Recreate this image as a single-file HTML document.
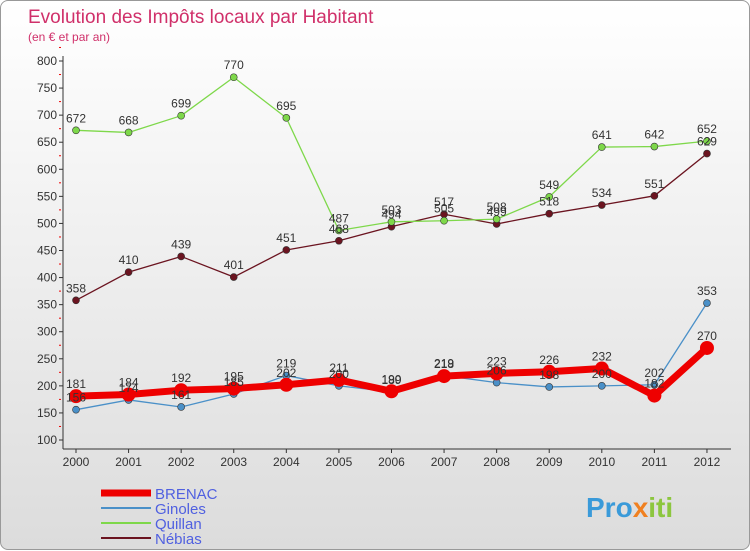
<!DOCTYPE html>
<html><head><meta charset="utf-8"><style>
body{margin:0;width:750px;height:550px;overflow:hidden;font-family:"Liberation Sans",sans-serif}
#wrap{position:absolute;left:0;top:0;width:748px;height:548px;border:1px solid #999;border-radius:8px;background:linear-gradient(#fff,#dcdcdc)}
</style></head><body>
<div id="wrap">
<svg width="750" height="550" id="svg" style="position:absolute;left:0;top:0">
<text x="27" y="22" font-size="19" fill="#d0306a">Evolution des Impôts locaux par Habitant</text>
<text x="27" y="40" font-size="12" fill="#d0306a">(en € et par an)</text>
<g id="grid"></g><g id="series"></g><g id="labels"></g>
<text x="585" y="516" font-size="28" font-weight="bold" fill="#3a9ad9">Pro<tspan fill="#f08020">x</tspan><tspan fill="#8cc63f">iti</tspan></text>
</svg>
</div>
<script>
const years=[2000,2001,2002,2003,2004,2005,2006,2007,2008,2009,2010,2011,2012];
const brenac=[181,184,192,195,202,211,190,218,223,226,232,182,270];
const ginoles=[156,174,161,185,219,200,189,219,206,198,200,202,353];
const quillan=[672,668,699,770,695,487,503,505,508,549,641,642,652];
const nebias=[358,410,439,401,451,468,494,517,499,518,534,551,629];
const yTicks=[100,150,200,250,300,350,400,450,500,550,600,650,700,750,800];
const NS="http://www.w3.org/2000/svg";
const X=i=>75+i*52.58, Y=v=>439-(v-100)*379/700;
function mk(t,a,p){const e=document.createElementNS(NS,t);for(const k in a)e.setAttribute(k,a[k]);p.appendChild(e);return e;}
const g=document.getElementById('grid');
const ax=mk('line',{x1:62,y1:55,x2:62,y2:448,stroke:'#333'},g);


const bx=mk('line',{x1:62,y1:448,x2:730,y2:448,stroke:'#333'},g);


yTicks.forEach(v=>{
 mk('line',{x1:58,y1:Y(v),x2:62,y2:Y(v),stroke:'#333'},g);
 mk('line',{x1:58,y1:Y(v+25),x2:60,y2:Y(v+25),stroke:'#e00'},g);
 const t=mk('text',{x:56,y:Y(v)+4,'font-size':12,'text-anchor':'end',fill:'#333'},g);t.textContent=v;
 
 
});
years.forEach((y,i)=>{
 mk('line',{x1:X(i),y1:448,x2:X(i),y2:452,stroke:'#333'},g);
 const t=mk('text',{x:X(i),y:465,'font-size':12,'text-anchor':'middle',fill:'#333'},g);t.textContent=y;
 
 
});
const S=document.getElementById('series'),L=document.getElementById('labels');
const series=[
 {n:'nebias',d:nebias,c:'#6b1420',w:1.3,r:3.5},
 {n:'quillan',d:quillan,c:'#7ed84a',w:1.3,r:3.5},
 {n:'ginoles',d:ginoles,c:'#4a90c8',w:1.3,r:3.5},
 {n:'brenac',d:brenac,c:'#ee0000',w:7,r:7}];
series.forEach(s=>{
 const p=mk('polyline',{points:s.d.map((v,i)=>X(i)+','+Y(v)).join(' '),fill:'none',stroke:s.c,'stroke-width':s.w,'stroke-linejoin':'round'},S);
 
 
 s.d.forEach((v,i)=>{
  const c=mk('circle',{cx:X(i),cy:Y(v),r:s.r,fill:s.c,stroke:'#333','stroke-width':s.w>2?0:0.6},S);
  
  
  const t=mk('text',{x:X(i),y:Y(v)-8,'font-size':12,'text-anchor':'middle',fill:'#333'},L);t.textContent=v;
  
  
 });
});
const leg=[['BRENAC','#ee0000',7],['Ginoles','#4a90c8',2],['Quillan','#7ed84a',2],['Nébias','#6b1420',2]];
leg.forEach((l,i)=>{
 const y=492+i*15;
 mk('line',{x1:100,y1:y,x2:150,y2:y,stroke:l[1],'stroke-width':l[2]},g);
 const t=mk('text',{x:154,y:y+6,'font-size':15,fill:'#5060e0'},g);t.textContent=l[0];
 
 
});
</script>
</body></html>
